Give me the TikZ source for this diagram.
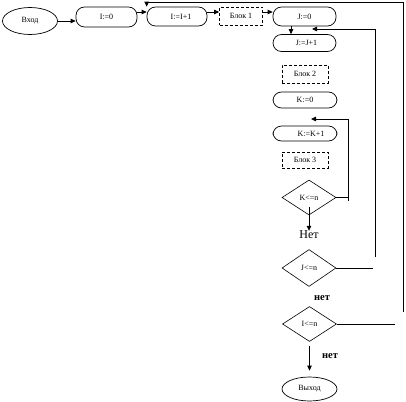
\documentclass[tikz,border=0pt]{standalone}
\usepackage{fontspec}
\setmainfont{Liberation Serif}
\usetikzlibrary{shapes.geometric,arrows.meta}
\begin{document}
\begin{tikzpicture}[x=1pt,y=-1pt,
  lbl/.style={font=\fontsize{8}{9}\selectfont},
  rbox/.style={draw, rounded corners=8.5pt, inner sep=0pt, lbl, line width=0.7pt},
  dbox/.style={draw, dash pattern=on 3pt off 2pt, inner sep=0pt, lbl, line width=0.7pt},
  oval/.style={draw, ellipse, inner sep=0pt, lbl, line width=0.7pt},
  dia/.style={draw, diamond, inner sep=0pt, lbl, line width=0.6pt, minimum width=54pt, minimum height=35pt},
  arr/.style={-{Triangle[length=5pt,width=4.5pt]}, line width=0.8pt},
  ln/.style={line width=0.8pt},
  bignet/.style={font=\fontsize{12}{14}\selectfont, inner sep=0pt},
  smallnet/.style={font=\fontsize{10.5}{12}\selectfont\bfseries, inner sep=0pt}]
\useasboundingbox (0,0) rectangle (406,401);

\node[oval, minimum width=55pt, minimum height=27pt] (vhod) at (30,21) {Вход};
\node[rbox, minimum width=61pt, minimum height=20pt] (i0) at (106.5,17) {I:=0};
\node[rbox, minimum width=60pt, minimum height=19pt] (ii) at (177,16.5) {\hspace*{8pt}I:=I+1};
\node[dbox, minimum width=43pt, minimum height=18pt] (b1) at (241,16) {Блок 1};
\node[rbox, minimum width=63pt, minimum height=19pt] (j0) at (304.5,16.5) {J:=0};
\node[rbox, minimum width=63pt, minimum height=17pt] (jj) at (304.5,43) {\hspace*{4pt}J:=J+1};
\node[dbox, minimum width=46pt, minimum height=18pt] (b2) at (305,74) {Блок 2};
\node[rbox, minimum width=64pt, minimum height=16pt] (k0) at (305,100) {K:=0};
\node[rbox, minimum width=64pt, minimum height=15pt] (kk) at (305,133.5) {\hspace*{12pt}K:=K+1};
\node[dbox, minimum width=46pt, minimum height=16pt] (b3) at (305,160) {Блок 3};
\node[dia] (dk) at (309,197.5) {K<=n};
\node[bignet] (net1) at (309,235) {Нет};
\node[dia, minimum height=37pt] (dj) at (309,268) {J<=n};
\node[smallnet] (net2) at (322,298) {нет};
\node[dia] (di) at (309.5,324) {I<=n};
\node[smallnet] (net3) at (330,356) {нет};
\node[oval, minimum width=55pt, minimum height=24pt] (vyhod) at (309.5,389) {Выход};

% free ends of the loop lines
\coordinate (outerEnd) at (403,312);
\coordinate (outerTop) at (403,2);
\coordinate (iEnd) at (395,324);
\coordinate (jEnd) at (373,268);
\coordinate (jBot) at (375,257);
\coordinate (jTip) at (312,29);
\coordinate (kEnd) at (348,197.5);
\coordinate (kBot) at (348,201);
\coordinate (kTip) at (311,119);

% main chain
\draw[arr] (vhod.east) -- (vhod.east -| i0.west);
\draw[arr] ([yshift=5pt]i0.east) -- ([yshift=5pt]i0.east -| ii.west);
\draw[arr] ([yshift=4.5pt]ii.east) -- ([yshift=4.5pt]ii.east -| b1.west);
\draw[arr] ([yshift=4pt]b1.east) -- ([yshift=4pt]b1.east -| j0.west);
\draw[arr] ([xshift=-13.5pt]j0.south) -- ([xshift=-13.5pt]jj.north);
\draw[arr] ([yshift=8pt]dk.south) -- (net1.north);
\draw[arr] ([yshift=-4pt]di.south) -- ([yshift=6pt]vyhod.north);

% loops
\draw[arr] (outerEnd) -- (outerTop) -| (ii.north west);
\draw[ln] (di.east) -- (iEnd);
\draw[ln] (dj.east) -- (jEnd);
\draw[arr] (jBot) |- (jTip);
\draw[ln] (dk.east) -- (kEnd);
\draw[arr] (kBot) |- (kTip);
\end{tikzpicture}
\end{document}
